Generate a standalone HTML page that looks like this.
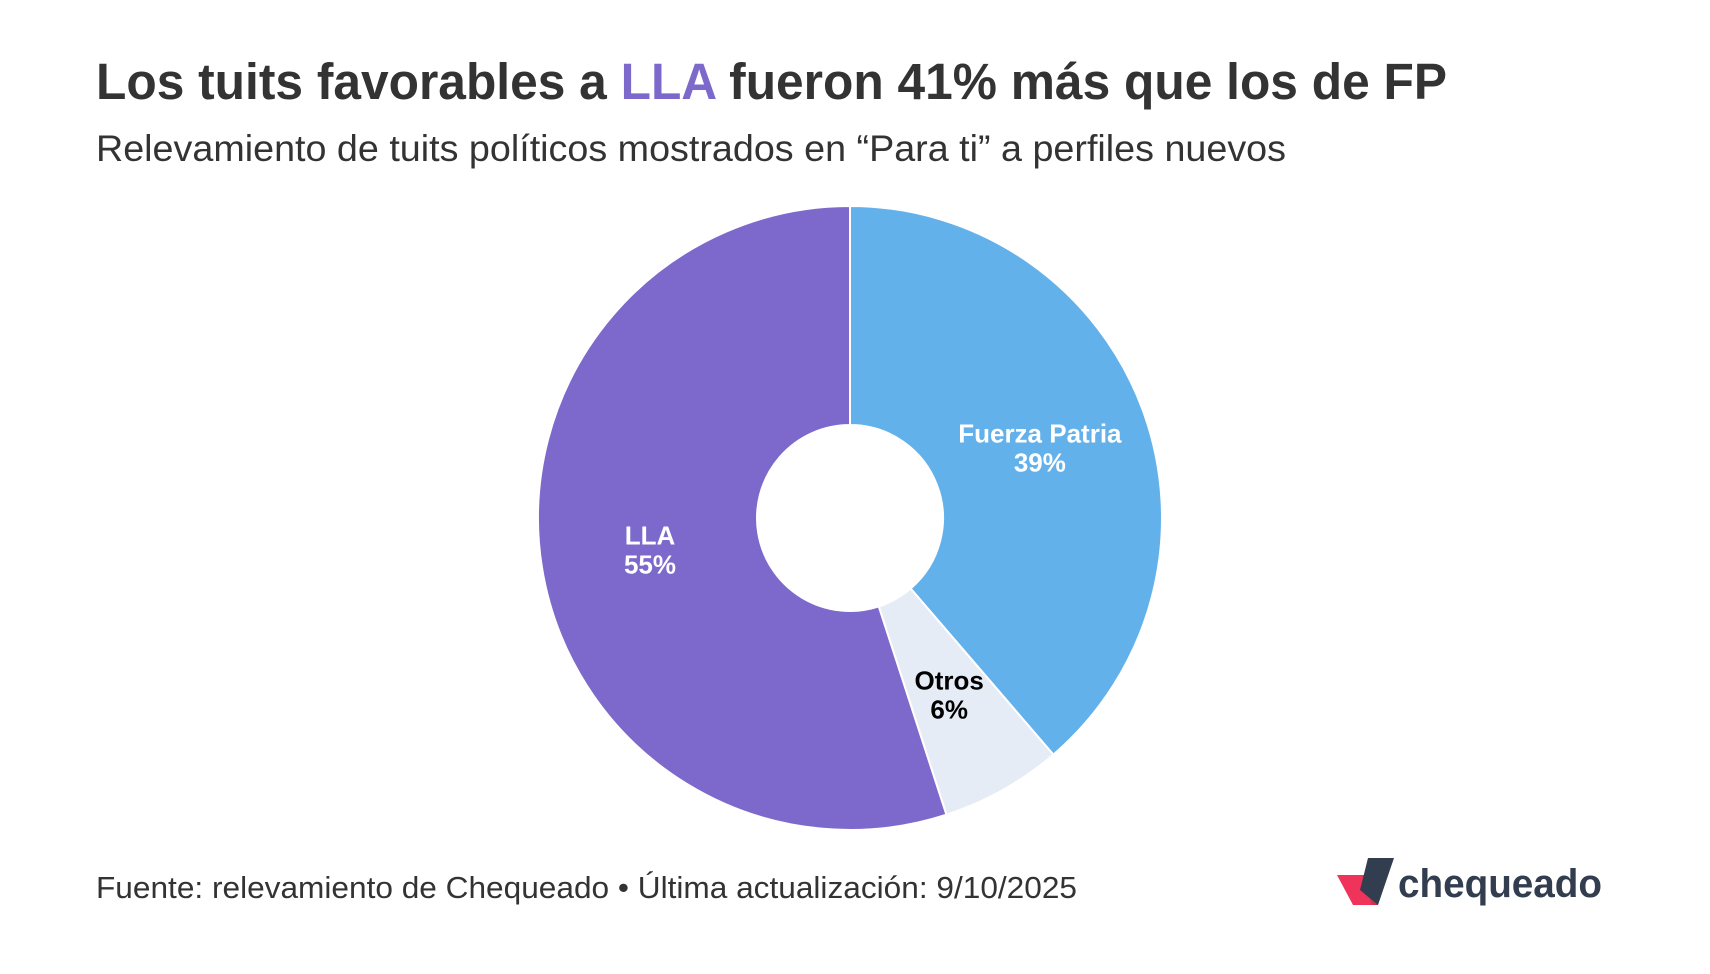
<!DOCTYPE html>
<html><head><meta charset="utf-8"><style>
html,body{margin:0;padding:0;background:#fff;}
svg{display:block;font-family:"Liberation Sans",sans-serif;}
</style></head><body>
<svg id="chart" width="1710" height="974" viewBox="0 0 1710 974">
<text x="96" y="99" font-size="51" font-weight="bold" fill="#333" textLength="1351" lengthAdjust="spacingAndGlyphs">Los tuits favorables a <tspan fill="#7d68cb">LLA</tspan> fueron 41% más que los de FP</text>
<text x="96" y="161" font-size="37" fill="#333" textLength="1190" lengthAdjust="spacingAndGlyphs">Relevamiento de tuits políticos mostrados en “Para ti” a perfiles nuevos</text>
<g id="slices"></g>
<g id="labels"></g>
<text x="96" y="898" font-size="31" fill="#333" textLength="981" lengthAdjust="spacingAndGlyphs">Fuente: relevamiento de Chequeado • Última actualización: 9/10/2025</text>
<g>
<polygon points="1337,875 1362,875 1378,905 1353,905" fill="#f0335a"/>
<polygon points="1362,875 1368,875 1378,905 1372,905" fill="#c8334f"/>
<polygon points="1368,858 1394,858 1378,905 1360,890" fill="#323d4f"/>
<text x="1398" y="897" font-size="40" font-weight="bold" fill="#323d4f" textLength="204" lengthAdjust="spacingAndGlyphs">chequeado</text>
</g>
</svg>
<script>
const categories = ["Fuerza Patria", "Otros", "LLA"];
const values = [38.7, 6.3, 55.0];
const valueLabels = ["39%", "6%", "55%"];
const colors = ["#63b1ea", "#e6ecf6", "#7d68cb"];
const textColors = ["#fff", "#000", "#fff"];
const cx = 850, cy = 518, R = 312, r0 = 93;
const NS = "http://www.w3.org/2000/svg";
const total = values.reduce((a,b)=>a+b,0);
function pt(rad, frac){const a=frac*2*Math.PI;return [cx+rad*Math.sin(a), cy-rad*Math.cos(a)];}
const gS=document.getElementById('slices'), gL=document.getElementById('labels');
let acc=0;
values.forEach((v,i)=>{
  const f0=acc/total, f1=(acc+v)/total; acc+=v;
  const large=(f1-f0)>0.5?1:0;
  const [x0,y0]=pt(R,f0),[x1,y1]=pt(R,f1),[x2,y2]=pt(r0,f1),[x3,y3]=pt(r0,f0);
  const p=document.createElementNS(NS,'path');
  p.setAttribute('d',`M${x0},${y0}A${R},${R} 0 ${large} 1 ${x1},${y1}L${x2},${y2}A${r0},${r0} 0 ${large} 0 ${x3},${y3}Z`);
  p.setAttribute('fill',colors[i]);p.setAttribute('stroke','#fff');p.setAttribute('stroke-width','2');
  
  
  gS.appendChild(p);
  const [lx,ly]=pt((R+r0)/2,(f0+f1)/2);
  const t=document.createElementNS(NS,'text');
  t.setAttribute('x',lx);t.setAttribute('text-anchor','middle');t.setAttribute('font-size','26');t.setAttribute('font-weight','bold');t.setAttribute('fill',textColors[i]);
  
  
  const a=document.createElementNS(NS,'tspan');a.setAttribute('x',lx);a.setAttribute('y',ly-5);a.textContent=categories[i];
  const b=document.createElementNS(NS,'tspan');b.setAttribute('x',lx);b.setAttribute('y',ly+24);b.textContent=valueLabels[i];
  t.appendChild(a);t.appendChild(b);gL.appendChild(t);
});
</script>
</body></html>
